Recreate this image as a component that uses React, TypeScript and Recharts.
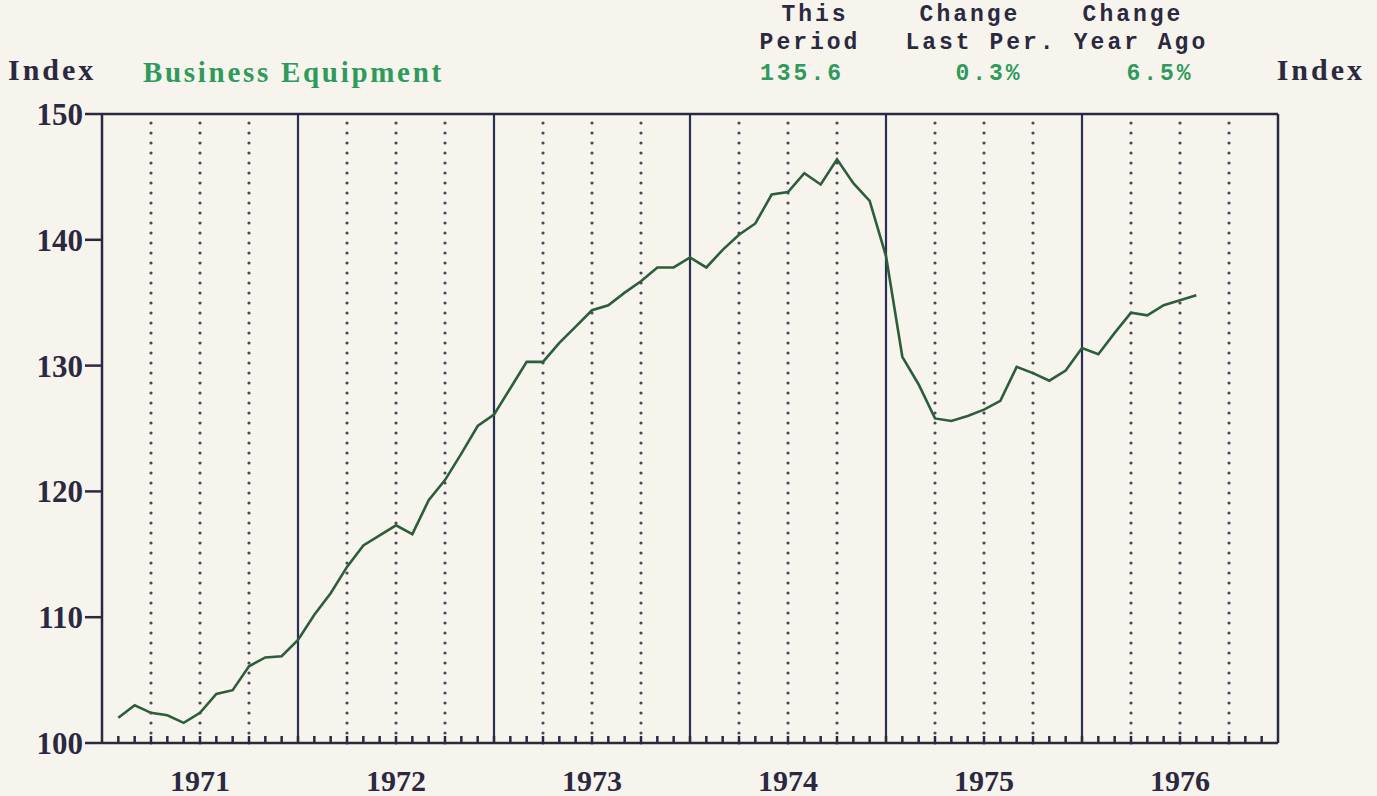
import { LineChart, Line, XAxis, YAxis, ReferenceLine } from 'recharts';

// monthly index, Jan 1971 .. Jul 1976 (plotted at the end of each month)
const years = [1971, 1972, 1973, 1974, 1975, 1976];
const v1971 = [102.0, 103.0, 102.4, 102.2, 101.6, 102.4, 103.9, 104.2, 106.1, 106.8, 106.9, 108.2];
const v1972 = [110.2, 111.9, 114.0, 115.7, 116.5, 117.3, 116.6, 119.3, 120.9, 123.0, 125.2, 126.1];
const v1973 = [128.2, 130.3, 130.3, 131.8, 133.1, 134.4, 134.8, 135.8, 136.7, 137.8, 137.8, 138.6];
const v1974 = [137.8, 139.2, 140.4, 141.3, 143.6, 143.8, 145.3, 144.4, 146.4, 144.5, 143.1, 138.7];
const v1975 = [130.7, 128.5, 125.8, 125.6, 126.0, 126.5, 127.2, 129.9, 129.4, 128.8, 129.6, 131.4];
const v1976 = [130.9, 132.6, 134.2, 134.0, 134.8, 135.2, 135.6];

const yTicks = [100, 110, 120, 130, 140, 150];
const monthTicks = [
  0, 1, 2, 3, 4, 5, 6, 7, 8, 9, 10, 11, 12, 13, 14, 15, 16, 17, 18, 19, 20, 21, 22, 23, 24,
  25, 26, 27, 28, 29, 30, 31, 32, 33, 34, 35, 36, 37, 38, 39, 40, 41, 42, 43, 44, 45, 46, 47, 48,
  49, 50, 51, 52, 53, 54, 55, 56, 57, 58, 59, 60, 61, 62, 63, 64, 65, 66, 67, 68, 69, 70, 71, 72,
];
const yearLines = [12, 24, 36, 48, 60];
const quarterLines = [3, 6, 9, 15, 18, 21, 27, 30, 33, 39, 42, 45, 51, 54, 57, 63, 66, 69];

const data = [...v1971, ...v1972, ...v1973, ...v1974, ...v1975, ...v1976].map((value, i) => ({
  m: i + 1,
  value,
}));

const INK = '#2b2940';
const GREEN = '#2e9a5c';
const LINE = '#2c5e3b';
const BG = '#f6f4ec';
const SERIF = '"Liberation Serif", "Times New Roman", serif';
const MONO = '"Liberation Mono", "Courier New", monospace';

const MonthTick = (props: any) => {
  const { x, y, payload } = props;
  const m = payload.value;
  return (
    <g>
      {m > 0 && m < 72 && <line x1={x} y1={y} x2={x} y2={y - 7} stroke={INK} strokeWidth={2.5} />}
      {m % 12 === 6 && (
        <text x={x} y={y + 48} textAnchor="middle" fontFamily={SERIF} fontWeight="bold" fontSize={30} fill={INK}>
          {years[(m - 6) / 12]}
        </text>
      )}
    </g>
  );
};

const yTickStyle = { fontFamily: SERIF, fontWeight: 'bold', fontSize: 31, fill: INK };

const App = () => {
  return (
    <div style={{ position: 'absolute', left: 0, top: 0, width: 1377, height: 796, background: BG }}>
      <svg width={1377} height={130} style={{ position: 'absolute', left: 0, top: 0 }}>
        <text x={8} y={80} fontFamily={SERIF} fontWeight="bold" fontSize={30} fill={INK} letterSpacing={3}>Index</text>
        <text x={143} y={82} fontFamily={SERIF} fontWeight="bold" fontSize={29} fill={GREEN} letterSpacing={2.7}>
          Business Equipment
        </text>
        <text x={1365} y={80} textAnchor="end" fontFamily={SERIF} fontWeight="bold" fontSize={30} fill={INK} letterSpacing={3}>Index</text>

        <g fontFamily={MONO} fontWeight="bold" fontSize={23} letterSpacing={3} textAnchor="middle">
          <text x={815} y={21} fill={INK}>This</text>
          <text x={810} y={49} fill={INK}>Period</text>
          <text x={802} y={80} fill={GREEN}>135.6</text>

          <text x={970} y={21} fill={INK}>Change</text>
          <text x={981} y={49} fill={INK}>Last Per.</text>
          <text x={989} y={80} fill={GREEN}>0.3%</text>

          <text x={1133} y={21} fill={INK}>Change</text>
          <text x={1141} y={49} fill={INK}>Year Ago</text>
          <text x={1160} y={80} fill={GREEN}>6.5%</text>
        </g>
      </svg>

      <div style={{ position: 'absolute', left: 0, top: 0 }}>
        <LineChart width={1377} height={796} data={data} margin={{ top: 114, right: 0, bottom: 0, left: 0 }}>
          <XAxis
            dataKey="m"
            type="number"
            domain={[0, 72]}
            ticks={monthTicks}
            interval={0}
            tickLine={false}
            tickSize={0}
            tickMargin={0}
            height={53}
            tick={<MonthTick />}
            axisLine={{ stroke: INK, strokeWidth: 2.5 }}
          />
          <YAxis
            yAxisId="left"
            domain={[100, 150]}
            ticks={yTicks}
            width={102}
            tickSize={17}
            tickMargin={2}
            tick={yTickStyle}
            tickLine={{ stroke: INK, strokeWidth: 2.5 }}
            axisLine={{ stroke: INK, strokeWidth: 2.5 }}
          />
          <YAxis
            yAxisId="right"
            orientation="right"
            domain={[100, 150]}
            ticks={yTicks}
            width={99}
            tickSize={17}
            tickMargin={3}
            tick={yTickStyle}
            tickLine={{ stroke: INK, strokeWidth: 2.5 }}
            axisLine={{ stroke: INK, strokeWidth: 2.5 }}
          />
          {quarterLines.map((q) => (
            <ReferenceLine
              key={'q' + q}
              x={q}
              yAxisId="left"
              stroke="#4a4858"
              strokeWidth={3.2}
              strokeDasharray="0 10"
              strokeLinecap="round"
            />
          ))}
          {yearLines.map((yl) => (
            <ReferenceLine key={'y' + yl} x={yl} yAxisId="left" stroke="#2b2f55" strokeWidth={2.2} />
          ))}
          <ReferenceLine y={150} yAxisId="left" stroke={INK} strokeWidth={2.5} />
          <Line
            yAxisId="left"
            type="linear"
            dataKey="value"
            stroke={LINE}
            strokeWidth={2.6}
            dot={false}
            isAnimationActive={false}
          />
        </LineChart>
      </div>
    </div>
  );
};

export default App;
